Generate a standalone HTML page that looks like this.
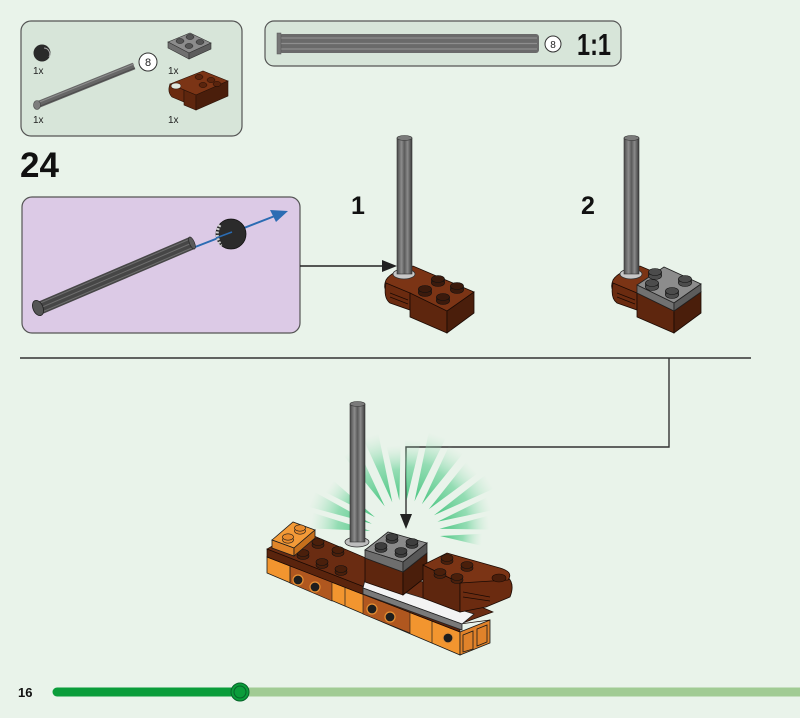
<!DOCTYPE html>
<html><head><meta charset="utf-8">
<style>
html,body{margin:0;padding:0;background:#e9f3ea;}
svg{display:block;}
text{font-family:"Liberation Sans",sans-serif;}
</style></head>
<body>
<svg width="800" height="718" viewBox="0 0 800 718" xmlns="http://www.w3.org/2000/svg">
<defs>
<linearGradient id="ray" x1="0" y1="0" x2="1" y2="0">
<stop offset="0" stop-color="#3fc27a" stop-opacity="0.95"/>
<stop offset="0.55" stop-color="#6fd39c" stop-opacity="0.7"/>
<stop offset="1" stop-color="#b9e8cb" stop-opacity="0"/>
</linearGradient>
<linearGradient id="axv" x1="0" y1="0" x2="1" y2="0">
<stop offset="0" stop-color="#4a4a4a"/><stop offset="0.3" stop-color="#8c8c8c"/><stop offset="0.5" stop-color="#5a5a5a"/><stop offset="0.7" stop-color="#8a8a8a"/><stop offset="1" stop-color="#3c3c3c"/>
</linearGradient>
</defs>
<rect width="800" height="718" fill="#e9f3ea"/>

<!-- Parts box -->
<rect x="21" y="21" width="221" height="115" rx="10" fill="#d7e5d9" stroke="#555" stroke-width="1.2"/>
<circle cx="42" cy="53" r="8.5" fill="#2a2a2a"/>
<path d="M44,48 a6,6 0 0 1 5,9" stroke="#aaa" stroke-width="1" fill="none"/>
<text x="33" y="74" font-size="10" fill="#222">1x</text>
<line x1="37" y1="105" x2="134" y2="66" stroke="#666" stroke-width="7"/>
<line x1="37" y1="103" x2="134" y2="64" stroke="#8d8d8d" stroke-width="1"/>
<line x1="38" y1="107" x2="135" y2="68" stroke="#4c4c4c" stroke-width="1"/>
<ellipse cx="37" cy="105" rx="3.5" ry="4.5" fill="#7d7d7d" stroke="#444" stroke-width="0.6"/>
<circle cx="148" cy="62" r="9" fill="#fff" stroke="#333" stroke-width="1"/>
<text x="148" y="66" font-size="11" text-anchor="middle" fill="#222">8</text>
<text x="33" y="123" font-size="10" fill="#222">1x</text>
<!-- gray plate icon -->
<polygon points="168,42 190,33 211,43 189,53" fill="#8c8c8c" stroke="#333" stroke-width="0.6"/>
<polygon points="168,42 189,53 189,59 168,48" fill="#707070" stroke="#333" stroke-width="0.6"/>
<polygon points="189,53 211,43 211,49 189,59" fill="#5c5c5c" stroke="#333" stroke-width="0.6"/>
<g fill="#555" stroke="#222" stroke-width="0.5">
<ellipse cx="180" cy="41" rx="4" ry="2.5"/><ellipse cx="190" cy="37" rx="4" ry="2.5"/>
<ellipse cx="189" cy="46" rx="4" ry="2.5"/><ellipse cx="200" cy="42" rx="4" ry="2.5"/>
</g>
<text x="168" y="74" font-size="10" fill="#222">1x</text>
<!-- brown brick icon -->
<polygon points="170,84 203,71 228,81 196,95" fill="#7b3415" stroke="#2a1208" stroke-width="0.6"/>
<path d="M170,84 L184,90 L184,102 L172,97 Q167,92 170,84 Z" fill="#6b2b10" stroke="#2a1208" stroke-width="0.6"/>
<ellipse cx="176" cy="86" rx="5" ry="3" fill="#e0e8e0" stroke="#2a1208" stroke-width="0.5"/>
<polygon points="184,90 196,95 196,110 184,105" fill="#5e260e" stroke="#2a1208" stroke-width="0.6"/>
<polygon points="196,95 228,81 228,96 196,110" fill="#4a1e0b" stroke="#2a1208" stroke-width="0.6"/>
<g fill="#5a240d" stroke="#1a0a04" stroke-width="0.5">
<ellipse cx="199" cy="77" rx="4" ry="2.5"/><ellipse cx="211" cy="80" rx="4" ry="2.5"/>
<ellipse cx="203" cy="85" rx="4" ry="2.5"/><ellipse cx="217" cy="84" rx="4" ry="2.5"/>
</g>
<text x="168" y="123" font-size="10" fill="#222">1x</text>

<!-- 1:1 box -->
<rect x="265" y="21" width="356" height="45" rx="9" fill="#d7e5d9" stroke="#555" stroke-width="1.2"/>
<rect x="279" y="34" width="260" height="19" rx="3" fill="#6a6a6a"/>
<line x1="281" y1="38" x2="537" y2="38" stroke="#8e8e8e" stroke-width="1.2"/>
<line x1="281" y1="43.5" x2="537" y2="43.5" stroke="#8e8e8e" stroke-width="1.2"/>
<line x1="281" y1="49" x2="537" y2="49" stroke="#8e8e8e" stroke-width="1.2"/>
<rect x="277" y="33" width="4" height="21" fill="#777" stroke="#555" stroke-width="0.5"/>
<circle cx="553" cy="44" r="8" fill="#fff" stroke="#333" stroke-width="1"/>
<text x="553" y="48" font-size="10" text-anchor="middle" fill="#222">8</text>
<text x="577" y="55" font-size="31" font-weight="bold" fill="#111" textLength="34" lengthAdjust="spacingAndGlyphs">1:1</text>

<!-- Step number -->
<text x="20" y="177" font-size="35" font-weight="bold" fill="#111">24</text>

<!-- Purple box -->
<rect x="22" y="197" width="278" height="136" rx="10" fill="#dccae6" stroke="#555" stroke-width="1.2"/>
<line x1="190" y1="249" x2="280" y2="214" stroke="#2b6cb3" stroke-width="2"/>
<polygon points="288,211 270,210 276,222" fill="#2b6cb3"/>
<line x1="40" y1="308" x2="192" y2="243" stroke="#464646" stroke-width="13"/>
<line x1="38" y1="304" x2="190" y2="239" stroke="#6e6e6e" stroke-width="1"/>
<line x1="40" y1="308" x2="192" y2="243" stroke="#6e6e6e" stroke-width="1"/>
<line x1="42" y1="312" x2="194" y2="247" stroke="#6e6e6e" stroke-width="1"/>
<ellipse cx="38" cy="308" rx="5" ry="8" transform="rotate(-23 38 308)" fill="#555" stroke="#222" stroke-width="0.8"/>
<ellipse cx="192" cy="243" rx="2.5" ry="6.5" transform="rotate(-23 192 243)" fill="#5a5a5a" stroke="#222" stroke-width="0.6"/>
<circle cx="231" cy="234" r="15" fill="#2b2b2b" stroke="#111" stroke-width="0.8"/>
<path d="M220,225 Q214,234 221,246" stroke="#cfcfcf" stroke-width="3" fill="none" stroke-dasharray="2 1.5"/>
<line x1="216" y1="238" x2="232" y2="232" stroke="#2b6cb3" stroke-width="1.5"/>

<!-- connector arrow to step 1 -->
<line x1="300" y1="266" x2="386" y2="266" stroke="#222" stroke-width="1.4"/>
<polygon points="382,260 397,266 382,272" fill="#222"/>

<!-- Step 1 -->
<text x="351" y="214" font-size="25" font-weight="bold" fill="#111">1</text>
<g id="s1">
<path d="M386,280 Q382,290 390,294 L447,312 L474,292 L413,266 L396,272 Q389,275 386,280 Z" fill="#7b3415" stroke="#1a0a04" stroke-width="0.8"/>
<path d="M386,283 L410,293 L410,310 L390,303 Q383,298 386,283 Z" fill="#6b2b10" stroke="#1a0a04" stroke-width="0.8"/>
<line x1="390" y1="293" x2="408" y2="300" stroke="#1a0a04" stroke-width="0.7"/>
<line x1="390" y1="297" x2="408" y2="304" stroke="#1a0a04" stroke-width="0.7"/>
<polygon points="410,293 447,311 447,333 410,317" fill="#5e260e" stroke="#1a0a04" stroke-width="0.8"/>
<polygon points="447,311 474,292 474,313 447,333" fill="#4a1e0b" stroke="#1a0a04" stroke-width="0.8"/>
</g>
<g fill="#3b1a0c" stroke="#111" stroke-width="0.6">
<rect x="431.5" y="279" width="13" height="4"/><ellipse cx="438" cy="283" rx="6.5" ry="3.5"/><ellipse cx="438" cy="279" rx="6.5" ry="3.5"/>
<rect x="450.5" y="286" width="13" height="4"/><ellipse cx="457" cy="290" rx="6.5" ry="3.5"/><ellipse cx="457" cy="286" rx="6.5" ry="3.5"/>
<rect x="418.5" y="289" width="13" height="4"/><ellipse cx="425" cy="293" rx="6.5" ry="3.5"/><ellipse cx="425" cy="289" rx="6.5" ry="3.5"/>
<rect x="436.5" y="297" width="13" height="4"/><ellipse cx="443" cy="301" rx="6.5" ry="3.5"/><ellipse cx="443" cy="297" rx="6.5" ry="3.5"/>
</g>
<ellipse cx="404" cy="274" rx="11" ry="5" fill="#c8c8c8" stroke="#333" stroke-width="0.8"/>
<rect x="397" y="138" width="15" height="136" fill="url(#axv)" stroke="#333" stroke-width="0.6"/>
<ellipse cx="404.5" cy="138" rx="7.5" ry="2.5" fill="#7a7a7a" stroke="#333" stroke-width="0.6"/>

<!-- Step 2 -->
<text x="581" y="214" font-size="25" font-weight="bold" fill="#111">2</text>
<g transform="translate(227,0)">
<path d="M386,280 Q382,290 390,294 L447,312 L474,292 L413,266 L396,272 Q389,275 386,280 Z" fill="#7b3415" stroke="#1a0a04" stroke-width="0.8"/>
<path d="M386,283 L410,293 L410,310 L390,303 Q383,298 386,283 Z" fill="#6b2b10" stroke="#1a0a04" stroke-width="0.8"/>
<line x1="390" y1="293" x2="408" y2="300" stroke="#1a0a04" stroke-width="0.7"/>
<line x1="390" y1="297" x2="408" y2="304" stroke="#1a0a04" stroke-width="0.7"/>
<polygon points="410,293 447,311 447,333 410,317" fill="#5e260e" stroke="#1a0a04" stroke-width="0.8"/>
<polygon points="447,311 474,292 474,313 447,333" fill="#4a1e0b" stroke="#1a0a04" stroke-width="0.8"/>
<polygon points="410,285 437,267 474,284 447,303" fill="#8c8c8c" stroke="#222" stroke-width="0.8"/>
<polygon points="410,285 447,303 447,311 410,293" fill="#717171" stroke="#222" stroke-width="0.8"/>
<polygon points="447,303 474,284 474,292 447,311" fill="#5c5c5c" stroke="#222" stroke-width="0.8"/>
<g fill="#4c4c4c" stroke="#111" stroke-width="0.6">
<rect x="421.5" y="272" width="13" height="4"/><ellipse cx="428" cy="276" rx="6.5" ry="3.5"/><ellipse cx="428" cy="272" rx="6.5" ry="3.5"/>
<rect x="451.5" y="279" width="13" height="4"/><ellipse cx="458" cy="283" rx="6.5" ry="3.5"/><ellipse cx="458" cy="279" rx="6.5" ry="3.5"/>
<rect x="418.5" y="283" width="13" height="4"/><ellipse cx="425" cy="287" rx="6.5" ry="3.5"/><ellipse cx="425" cy="283" rx="6.5" ry="3.5"/>
<rect x="438.5" y="291" width="13" height="4"/><ellipse cx="445" cy="295" rx="6.5" ry="3.5"/><ellipse cx="445" cy="291" rx="6.5" ry="3.5"/>
</g>
</g>
<ellipse cx="631" cy="274" rx="11" ry="5" fill="#c8c8c8" stroke="#333" stroke-width="0.8"/>
<rect x="624" y="138" width="15" height="136" fill="url(#axv)" stroke="#333" stroke-width="0.6"/>
<ellipse cx="631.5" cy="138" rx="7.5" ry="2.5" fill="#7a7a7a" stroke="#333" stroke-width="0.6"/>

<!-- Separator and connector -->
<line x1="20" y1="358" x2="751" y2="358" stroke="#333" stroke-width="1.4"/>
<polyline points="669,358 669,447 406,447 406,516" fill="none" stroke="#333" stroke-width="1.4"/>

<!-- Burst -->
<g fill="url(#ray)">
<polygon points="440,533 500,525 500,541" transform="rotate(-170 405 535)"/>
<polygon points="440,533 505,525 505,541" transform="rotate(-158 405 535)"/>
<polygon points="440,533 495,526 495,540" transform="rotate(-146 405 535)"/>
<polygon points="440,533 505,525 505,541" transform="rotate(-122 405 535)"/>
<polygon points="440,533 510,525 510,541" transform="rotate(-108 405 535)"/>
<polygon points="440,533 495,526 495,540" transform="rotate(-96 405 535)"/>
<polygon points="440,533 500,525 500,541" transform="rotate(-84 405 535)"/>
<polygon points="440,533 510,524 510,542" transform="rotate(-71 405 535)"/>
<polygon points="440,533 505,525 505,541" transform="rotate(-58 405 535)"/>
<polygon points="440,533 500,525 500,541" transform="rotate(-44 405 535)"/>
<polygon points="440,533 505,525 505,541" transform="rotate(-31 405 535)"/>
<polygon points="440,533 495,526 495,540" transform="rotate(-19 405 535)"/>
<polygon points="440,533 490,526 490,540" transform="rotate(-7 405 535)"/>
<polygon points="440,533 482,527 482,539" transform="rotate(5 405 535)"/>
</g>
<polygon points="400,514 406,529 412,514" fill="#222"/>

<!-- Bottom assembly -->
<!-- orange front face -->
<polygon points="267,557 460,632 460,655 267,573" fill="#f2952f" stroke="#1a1a1a" stroke-width="0.8"/>
<polygon points="290,566 332,582 332,601 290,583" fill="#b0571f" stroke="#1a1a1a" stroke-width="0.6"/>
<polygon points="363,594 410,612 410,633 363,614" fill="#b0571f" stroke="#1a1a1a" stroke-width="0.6"/>
<g stroke="#1a1a1a" stroke-width="0.7">
<line x1="290" y1="566" x2="290" y2="583"/><line x1="345" y1="587" x2="345" y2="606"/>
<line x1="432" y1="621" x2="432" y2="643"/>
</g>
<g fill="#1e1e1e" stroke="#e79035" stroke-width="1.2">
<circle cx="298" cy="580" r="5"/><circle cx="315" cy="587" r="5"/>
<circle cx="372" cy="609" r="5"/><circle cx="390" cy="617" r="5"/>
<circle cx="448" cy="638" r="5"/>
</g>
<!-- right end face -->
<polygon points="460,632 490,620 490,643 460,655" fill="#e0822a" stroke="#1a1a1a" stroke-width="0.8"/>
<polygon points="463,635 473,631 473,649 463,652" fill="none" stroke="#1a1a1a" stroke-width="0.8"/>
<polygon points="477,629 487,625 487,642 477,646" fill="none" stroke="#1a1a1a" stroke-width="0.8"/>
<!-- brown top layer -->
<polygon points="267,549 460,624 460,632 267,557" fill="#5a240d" stroke="#1a0a04" stroke-width="0.7"/>
<polygon points="267,549 300,530 493,612 460,624" fill="#6a2c12" stroke="#1a0a04" stroke-width="0.7"/>
<line x1="460" y1="624" x2="490" y2="620" stroke="#1a0a04" stroke-width="0.7"/>
<!-- brown studs -->
<g fill="#4a1f0b" stroke="#111" stroke-width="0.6">
<ellipse cx="318" cy="545" rx="6" ry="3.5"/><ellipse cx="318" cy="542" rx="6" ry="3.5"/>
<ellipse cx="303" cy="556" rx="6" ry="3.5"/><ellipse cx="303" cy="553" rx="6" ry="3.5"/>
<ellipse cx="338" cy="553" rx="6" ry="3.5"/><ellipse cx="338" cy="550" rx="6" ry="3.5"/>
<ellipse cx="322" cy="565" rx="6" ry="3.5"/><ellipse cx="322" cy="562" rx="6" ry="3.5"/>
<ellipse cx="341" cy="572" rx="6" ry="3.5"/><ellipse cx="341" cy="569" rx="6" ry="3.5"/>
</g>
<!-- orange 1x2 plate -->
<polygon points="272,540 293,522 315,530 294,548" fill="#f39a38" stroke="#1a1a1a" stroke-width="0.8"/>
<polygon points="272,540 294,548 294,556 272,548" fill="#e0852a" stroke="#1a1a1a" stroke-width="0.8"/>
<polygon points="294,548 315,530 315,538 294,556" fill="#c66f1c" stroke="#1a1a1a" stroke-width="0.8"/>
<g fill="#e88a2c" stroke="#1a1a1a" stroke-width="0.6">
<ellipse cx="288" cy="540" rx="5.5" ry="3.2"/><ellipse cx="288" cy="537" rx="5.5" ry="3.2"/>
<ellipse cx="300" cy="531" rx="5.5" ry="3.2"/><ellipse cx="300" cy="528" rx="5.5" ry="3.2"/>
</g>
<!-- axle -->
<ellipse cx="357" cy="542" rx="12" ry="5" fill="#bdbdbd" stroke="#333" stroke-width="0.8"/>
<rect x="350" y="404" width="15" height="138" fill="url(#axv)" stroke="#333" stroke-width="0.6"/>
<ellipse cx="357.5" cy="404" rx="7.5" ry="2.5" fill="#7a7a7a" stroke="#333" stroke-width="0.6"/>
<!-- white strip -->
<polygon points="365,580 474,614 462,624 363,588" fill="#f3f3f3" stroke="#222" stroke-width="0.8"/>
<polygon points="363,588 462,624 462,630 363,594" fill="#7a7a7a" stroke="#222" stroke-width="0.8"/>
<!-- brown brick under gray plate -->
<polygon points="365,558 403,572 403,595 365,582" fill="#5e260e" stroke="#1a0a04" stroke-width="0.8"/>
<polygon points="403,572 427,553 427,576 403,595" fill="#4a1e0b" stroke="#1a0a04" stroke-width="0.8"/>
<!-- gray 2x2 plate -->
<polygon points="365,550 388,532 427,543 403,562" fill="#8a8a8a" stroke="#222" stroke-width="0.8"/>
<polygon points="365,550 403,562 403,572 365,558" fill="#6e6e6e" stroke="#222" stroke-width="0.8"/>
<polygon points="403,562 427,543 427,553 403,572" fill="#575757" stroke="#222" stroke-width="0.8"/>
<g fill="#3e3e3e" stroke="#111" stroke-width="0.6">
<ellipse cx="381" cy="549" rx="6" ry="3.5"/><ellipse cx="381" cy="546" rx="6" ry="3.5"/>
<ellipse cx="401" cy="554" rx="6" ry="3.5"/><ellipse cx="401" cy="551" rx="6" ry="3.5"/>
<ellipse cx="392" cy="540" rx="6" ry="3.5"/><ellipse cx="392" cy="537" rx="6" ry="3.5"/>
<ellipse cx="412" cy="545" rx="6" ry="3.5"/><ellipse cx="412" cy="542" rx="6" ry="3.5"/>
</g>
<!-- right clip brick -->
<polygon points="423,565 460,583 460,612 423,598" fill="#5e260e" stroke="#1a0a04" stroke-width="0.8"/>
<path d="M460,583 L505,575 Q516,582 510,597 L486,607 L460,612 Z" fill="#6b2b10" stroke="#1a0a04" stroke-width="0.8"/>
<line x1="463" y1="592" x2="490" y2="597" stroke="#1a0a04" stroke-width="0.7"/>
<line x1="463" y1="597" x2="490" y2="601" stroke="#1a0a04" stroke-width="0.7"/>
<path d="M423,565 L447,553 L500,568 Q514,572 508,580 L460,583 Z" fill="#7b3415" stroke="#1a0a04" stroke-width="0.8"/>
<ellipse cx="499" cy="578" rx="7" ry="4" fill="#4a1e0b" stroke="#1a0a04" stroke-width="0.6"/>
<g fill="#4a1f0b" stroke="#111" stroke-width="0.6">
<ellipse cx="447" cy="561" rx="6" ry="3.5"/><ellipse cx="447" cy="558" rx="6" ry="3.5"/>
<ellipse cx="467" cy="568" rx="6" ry="3.5"/><ellipse cx="467" cy="565" rx="6" ry="3.5"/>
<ellipse cx="440" cy="575" rx="6" ry="3.5"/><ellipse cx="440" cy="572" rx="6" ry="3.5"/>
<ellipse cx="457" cy="580" rx="6" ry="3.5"/><ellipse cx="457" cy="577" rx="6" ry="3.5"/>
</g>

<!-- Footer -->
<text x="18" y="697" font-size="13" font-weight="bold" fill="#111">16</text>
<line x1="240" y1="692" x2="800" y2="692" stroke="#a1cb94" stroke-width="9"/>
<line x1="57" y1="692" x2="240" y2="692" stroke="#0b9d3b" stroke-width="9" stroke-linecap="round"/>
<circle cx="240" cy="692" r="9" fill="#0b9d3b" stroke="#06642a" stroke-width="1"/>
<circle cx="240" cy="692" r="6" fill="none" stroke="#06642a" stroke-width="1"/>
</svg>
</body></html>
